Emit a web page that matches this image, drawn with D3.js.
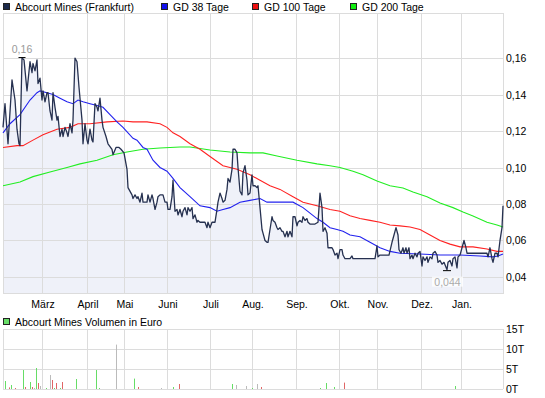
<!DOCTYPE html>
<html>
<head>
<meta charset="utf-8">
<script src="https://cdn.jsdelivr.net/npm/d3@7"></script>
<style>
  body { margin: 0; background: #fff; }
  svg text { font-family: "Liberation Sans", Arial, sans-serif; }
</style>
</head>
<body>
<div id="vis"></div>
<script>
// x values are trading-day indices from the left edge of the chart
var monthNames = ["März", "April", "Mai", "Juni", "Juli", "Aug.", "Sep.", "Okt.", "Nov.", "Dez.", "Jan."];
var monthStarts = [19.5, 42, 60.5, 82, 103.5, 124.5, 146.5, 168, 187, 209, 229];
var dayCount = 250;

var priceTicks = [0.04, 0.06, 0.08, 0.10, 0.12, 0.14, 0.16];
var volumeTicks = [0, 5, 10, 15];

var price = [
  [0,.122],[1,.135],[2.5,.113],[4.5,.148],[6,.137],[7,.121],[8,.113],[8.5,.112],[9.5,.160],[10.5,.159],
  [12,.142],[13.5,.158],[14.5,.152],[15,.157],[16,.153],[17,.159],[17.5,.146],[18.5,.149],[19.5,.137],[20,.142],
  [21,.136],[22,.141],[22.5,.141],[23.5,.131],[24.5,.126],[25,.141],[26,.133],[27,.126],[27.5,.128],[28.5,.117],
  [29.5,.121],[30,.117],[31,.122],[32,.119],[32.5,.117],[33.5,.124],[34.5,.119],[35,.126],[36,.160],[37,.158],
  [38,.144],[39.5,.126],[40,.113],[41,.124],[42,.115],[42.5,.113],[43.5,.121],[44.5,.115],[45,.114],[46,.135],
  [47,.133],[47.5,.131],[48.5,.138],[49.5,.126],[50,.122],[51.5,.117],[52.5,.113],[54.5,.110],[55,.107],[56.5,.111],
  [58,.111],[59,.110],[60.5,.108],[62,.099],[62.5,.089],[64.5,.085],[65,.083],[66,.085],[67,.083],[67.5,.084],
  [68.5,.081],[69.5,.086],[70,.081],[72,.081],[72.5,.085],[73.5,.081],[74.5,.085],[75,.083],[76,.077],[77,.081],
  [77.5,.084],[78.5,.085],[80,.085],[81,.081],[82,.081],[82.5,.077],[83.5,.077],[84.5,.084],[85,.093],[86,.076],
  [87,.077],[87.5,.074],[88.5,.077],[89.5,.073],[90,.076],[91,.078],[92,.074],[92.5,.078],[93.5,.076],[94.5,.078],
  [95,.072],[96,.074],[97,.070],[97.5,.071],[98.5,.070],[99.5,.070],[100,.070],[101,.070],[102,.067],[102.5,.070],
  [103.5,.067],[104.5,.070],[105,.070],[106,.070],[107,.077],[107.5,.081],[108.5,.086],[109.5,.083],[110,.081],[111,.082],
  [112,.088],[112.5,.094],[113.5,.092],[114.5,.099],[115,.110],[116,.110],[117,.108],[117.5,.100],[118.5,.087],[119.5,.085],
  [120,.097],[121,.101],[122,.093],[122.5,.085],[123.5,.086],[124.5,.096],[125,.090],[126,.090],[127,.089],[127.5,.090],
  [128.5,.078],[129.5,.066],[130,.064],[131,.060],[132,.059],[132.5,.059],[133.5,.066],[134.5,.073],[135,.071],[136,.070],
  [137,.067],[137.5,.066],[138.5,.067],[139.5,.065],[140,.065],[141,.062],[142,.065],[142.5,.062],[143.5,.065],[144.5,.062],
  [145,.073],[146,.073],[147,.068],[147.5,.070],[148.5,.071],[149.5,.070],[150,.073],[151,.071],[152,.072],[152.5,.070],
  [153.5,.069],[156,.069],[157.5,.070],[158.5,.086],[159.5,.078],[160,.065],[161,.067],[162,.064],[162.5,.056],[163.5,.056],
  [164.5,.056],[165,.055],[166,.052],[167,.053],[167.5,.050],[168.5,.055],[169.5,.055],[170,.052],[171,.050],[173.5,.050],
  [174.5,.0515],[175,.050],[186,.050],[187,.057],[187.5,.051],[188.5,.052],[193,.052],[194.5,.059],[195.5,.063],[196.5,.067],
  [197.5,.063],[198,.055],[199,.053],[200,.056],[200.5,.053],[201.5,.056],[202,.053],[203,.056],[203.5,.050],[204.5,.052],
  [205,.050],[206,.053],[207,.051],[207.5,.053],[208.5,.054],[209.5,.046],[210,.051],[211,.049],[212,.051],[212.5,.048],
  [213.5,.051],[214.5,.050],[215,.053],[216,.054],[217,.052],[217.5,.048],[218.5,.049],[219.5,.047],[220.5,.048],[222,.044],
  [222.5,.048],[223.5,.049],[224.5,.046],[225,.050],[226,.051],[227,.045],[227.5,.051],[228.5,.052],[229.5,.056],[230.5,.060],
  [231.5,.056],[232,.053],[242,.053],[242.5,.051],[243.5,.056],[244.5,.050],[245,.048],[246,.053],[247,.053],[247.5,.051],
  [248.5,.060],[249.5,.067],[250,.079]
];

var gd38 = [
  [0,.119],[3.5,.124],[8.5,.129],[13.5,.137],[17,.141],[18.5,.142],[22,.141],[25,.140],[28.5,.138],[32,.136],
  [35,.135],[37.5,.137],[40,.136],[43.5,.135],[47,.134],[50,.133],[53.5,.129],[57,.125],[60,.122],[65,.116],
  [67,.115],[70,.111],[72,.110],[75,.104],[78.5,.100],[82,.098],[85,.094],[88.5,.089],[93.5,.084],[98.5,.079],
  [103.5,.078],[107,.076],[110,.077],[113.5,.078],[118.5,.081],[123.5,.082],[128.5,.083],[132,.081],[138.5,.081],[145,.081],
  [150,.078],[153.5,.075],[157,.072],[160,.070],[163.5,.067],[167,.066],[170,.065],[173.5,.063],[178.5,.062],[183.5,.059],
  [188.5,.056],[193.5,.054],[198.5,.053],[208.5,.0526],[218.5,.052],[228.5,.052],[238.5,.0515],[245,.051],[247.5,.0515],[250,.0526]
];

var gd100 = [
  [0,.111],[7,.112],[10,.112],[15,.115],[20,.118],[27,.121],[33.5,.122],[37.5,.124],[43.5,.124],[52,.125],
  [60,.1255],[65,.125],[72,.125],[78.5,.124],[82,.122],[85,.119],[88.5,.117],[93.5,.113],[98.5,.110],[103.5,.106],
  [110,.101],[117,.099],[123.5,.096],[128.5,.093],[133.5,.090],[138.5,.088],[145,.084],[150,.081],[157,.079],[163.5,.077],
  [168.5,.076],[173.5,.0735],[178.5,.072],[183.5,.071],[188.5,.070],[193.5,.0685],[198.5,.068],[203.5,.0674],[208.5,.066],[213.5,.063],
  [218.5,.060],[223.5,.058],[228.5,.0565],[235,.0565],[242,.0553],[247,.054],[250,.054]
];

var gd200 = [
  [0,.090],[8.5,.092],[15,.095],[23.5,.0975],[32,.100],[38.5,.102],[47,.104],[55,.107],[62,.1085],[70,.110],
  [78.5,.1107],[88.5,.1112],[93.5,.1112],[103.5,.1096],[113.5,.1085],[123.5,.108],[130,.108],[137,.1063],[147,.104],[157,.102],
  [163.5,.101],[168.5,.100],[175,.098],[180,.096],[187,.0926],[193.5,.090],[200,.0888],[205,.0866],[212,.084],[218.5,.0805],
  [225,.078],[230,.0756],[235,.0734],[242,.070],[247,.0685],[250,.0674]
];

// volume in thousand euro; dir: g = up, r = down, n = unchanged
var volDays =   [1, 3, 4, 6, 10, 11, 13.5, 14.5, 15.5, 16.5, 17.5, 18.5, 21.5, 23.5, 24.5, 25.5, 26.5, 28.5, 29.5, 36.5,
                 46.5, 48, 56.5, 65.5, 67.5, 79, 85, 88, 114.5, 116.5, 121.5, 124.5, 127, 129, 158.5, 161.5, 165.5, 170.5, 226];
var volValues = [2.0, 0.4, 1.0, 0.25, 4.75, 0.5, 1.75, 0.5, 0.25, 5.25, 1.5, 0.75, 0.25, 3.5, 2.25, 0.25, 1.5, 0.25, 1.75, 2.5,
                 4.75, 0.25, 11.1, 2.6, 0.5, 0.25, 0.5, 1.25, 1.25, 1.0, 0.75, 0.25, 1.25, 0.5, 0.25, 1.5, 0.5, 1.6, 0.75];
var volDir =    ["g","r","g","r","g","r","g","r","n","g","r","n","g","n","r","g","r","g","r","g",
                 "g","g","n","g","r","n","g","r","g","n","n","g","n","r","g","g","g","r","g"];

var W = 545, H = 398;
var plot = {left: 3, right: 503, top: 13, bottom: 293};
var vplot = {top: 329, bottom: 389};

var deLocale = d3.formatLocale({decimal: ",", thousands: ".", grouping: [3], currency: ["", " €"]});
var fmt2 = deLocale.format(".2f");
var fmt3 = deLocale.format(".3f");

var svg = d3.select("#vis").append("svg")
  .attr("width", W)
  .attr("height", H);

var x = d3.scaleLinear().domain([0, dayCount]).range([plot.left, plot.right]);
var y = d3.scaleLinear().domain([0.0312, 0.1847]).range([plot.bottom, plot.top]);
var yv = d3.scaleLinear().domain([0, 15]).range([vplot.bottom, vplot.top]);

var gridColor = "#dcdcdc";

// price area fill
var area = d3.area().x(d => x(d[0])).y0(plot.bottom).y1(d => y(d[1]));
svg.append("path").datum(price)
  .attr("d", area)
  .attr("fill", "#eff1f9");

// grid, price panel
var grid = svg.append("g");
grid.selectAll("line.h").data(priceTicks).enter().append("line")
  .attr("x1", plot.left).attr("x2", plot.right)
  .attr("y1", d => Math.round(y(d)) + 0.5).attr("y2", d => Math.round(y(d)) + 0.5)
  .attr("stroke", gridColor);
grid.selectAll("line.v").data(monthStarts).enter().append("line")
  .attr("x1", d => Math.round(x(d)) + 0.5).attr("x2", d => Math.round(x(d)) + 0.5)
  .attr("y1", plot.top).attr("y2", plot.bottom)
  .attr("stroke", gridColor);
grid.append("rect")
  .attr("x", plot.left + 0.5).attr("y", plot.top + 0.5)
  .attr("width", plot.right - plot.left).attr("height", plot.bottom - plot.top)
  .attr("fill", "none").attr("stroke", gridColor);

// moving averages
var line = d3.line().x(d => x(d[0])).y(d => y(d[1]));
var maSeries = [
  {data: gd200, color: "#22ee22"},
  {data: gd100, color: "#ff2222"},
  {data: gd38, color: "#2222ee"}
];
maSeries.forEach(function(s) {
  svg.append("path").datum(s.data)
    .attr("d", line)
    .attr("fill", "none")
    .attr("stroke", s.color)
    .attr("stroke-width", 1.1);
});

// price line
svg.append("path").datum(price)
  .attr("d", line)
  .attr("fill", "none")
  .attr("stroke", "#263150")
  .attr("stroke-width", 1.3)
  .attr("stroke-linejoin", "round");

// high / low markers
var hi = price[d3.maxIndex(price, d => d[1])];
var lo = price[d3.minIndex(price, d => d[1])];
svg.append("line")
  .attr("x1", x(hi[0]) - 3.5).attr("x2", x(hi[0]) + 3.5)
  .attr("y1", y(hi[1]) - 0.5).attr("y2", y(hi[1]) - 0.5)
  .attr("stroke", "#000");
svg.append("text")
  .attr("x", x(hi[0])).attr("y", y(hi[1]) - 5)
  .attr("text-anchor", "middle")
  .attr("font-size", 10.5)
  .attr("fill", "#999")
  .text(fmt2(hi[1]));
svg.append("line")
  .attr("x1", x(lo[0]) - 4).attr("x2", x(lo[0]) + 4)
  .attr("y1", y(lo[1]) + 1).attr("y2", y(lo[1]) + 1)
  .attr("stroke", "#000");
var loText = fmt3(lo[1]);
svg.append("rect")
  .attr("x", x(lo[0]) - 15).attr("y", y(lo[1]) + 7)
  .attr("width", 31).attr("height", 10)
  .attr("fill", "#fff").attr("fill-opacity", 0.75);
svg.append("text")
  .attr("x", x(lo[0]) + 0.5).attr("y", y(lo[1]) + 16)
  .attr("text-anchor", "middle")
  .attr("font-size", 10.5)
  .attr("fill", "#aaa")
  .text(loText);

// y axis labels, price
svg.selectAll("text.py").data(priceTicks).enter().append("text")
  .attr("x", 506).attr("y", d => y(d) + 4)
  .attr("font-size", 10.5)
  .attr("fill", "#000")
  .text(d => fmt2(d));

// month labels
svg.selectAll("text.mx").data(monthNames).enter().append("text")
  .attr("x", (d, i) => x(monthStarts[i]) + 1)
  .attr("y", 308)
  .attr("text-anchor", "middle")
  .attr("font-size", 10.5)
  .attr("fill", "#000")
  .text(d => d);

// legend
var legend = [
  {label: "Abcourt Mines (Frankfurt)", color: "#1c2a4c", x: 3},
  {label: "GD 38 Tage", color: "#1111ee", x: 161},
  {label: "GD 100 Tage", color: "#ee1111", x: 252},
  {label: "GD 200 Tage", color: "#11ee11", x: 350}
];
legend.forEach(function(l) {
  svg.append("rect")
    .attr("x", l.x + 0.5).attr("y", 3.5).attr("width", 6).attr("height", 6)
    .attr("fill", l.color).attr("stroke", "#222");
  svg.append("text")
    .attr("x", l.x + 12).attr("y", 11)
    .attr("font-size", 10.5)
    .attr("fill", "#000")
    .text(l.label);
});

// volume panel
svg.append("rect")
  .attr("x", 3.5).attr("y", 318.5).attr("width", 6).attr("height", 6)
  .attr("fill", "#66dd66").attr("stroke", "#222");
svg.append("text")
  .attr("x", 15).attr("y", 325.5)
  .attr("font-size", 10.5)
  .attr("fill", "#000")
  .text("Abcourt Mines Volumen in Euro");

var vgrid = svg.append("g");
vgrid.selectAll("line.h").data(volumeTicks).enter().append("line")
  .attr("x1", plot.left).attr("x2", plot.right)
  .attr("y1", d => Math.round(yv(d)) + 0.5).attr("y2", d => Math.round(yv(d)) + 0.5)
  .attr("stroke", gridColor);
vgrid.selectAll("line.v").data(monthStarts).enter().append("line")
  .attr("x1", d => Math.round(x(d)) + 0.5).attr("x2", d => Math.round(x(d)) + 0.5)
  .attr("y1", vplot.top).attr("y2", vplot.bottom)
  .attr("stroke", gridColor);
vgrid.append("line")
  .attr("x1", plot.left + 0.5).attr("x2", plot.left + 0.5)
  .attr("y1", vplot.top).attr("y2", vplot.bottom).attr("stroke", gridColor);
vgrid.append("line")
  .attr("x1", plot.right + 0.5).attr("x2", plot.right + 0.5)
  .attr("y1", vplot.top).attr("y2", vplot.bottom).attr("stroke", gridColor);

var volColor = {g: "#66dd66", r: "#e06666", n: "#bbbbbb"};
svg.selectAll("rect.vol").data(volDays).enter().append("rect")
  .attr("x", d => Math.round(x(d)))
  .attr("width", 1)
  .attr("y", (d, i) => yv(volValues[i]))
  .attr("height", (d, i) => yv(0) - yv(volValues[i]))
  .attr("fill", (d, i) => volColor[volDir[i]]);

svg.selectAll("text.vy").data(volumeTicks).enter().append("text")
  .attr("x", 506).attr("y", d => yv(d) + 4)
  .attr("font-size", 10.5)
  .attr("fill", "#000")
  .text(d => d + "T");
</script>
</body>
</html>
